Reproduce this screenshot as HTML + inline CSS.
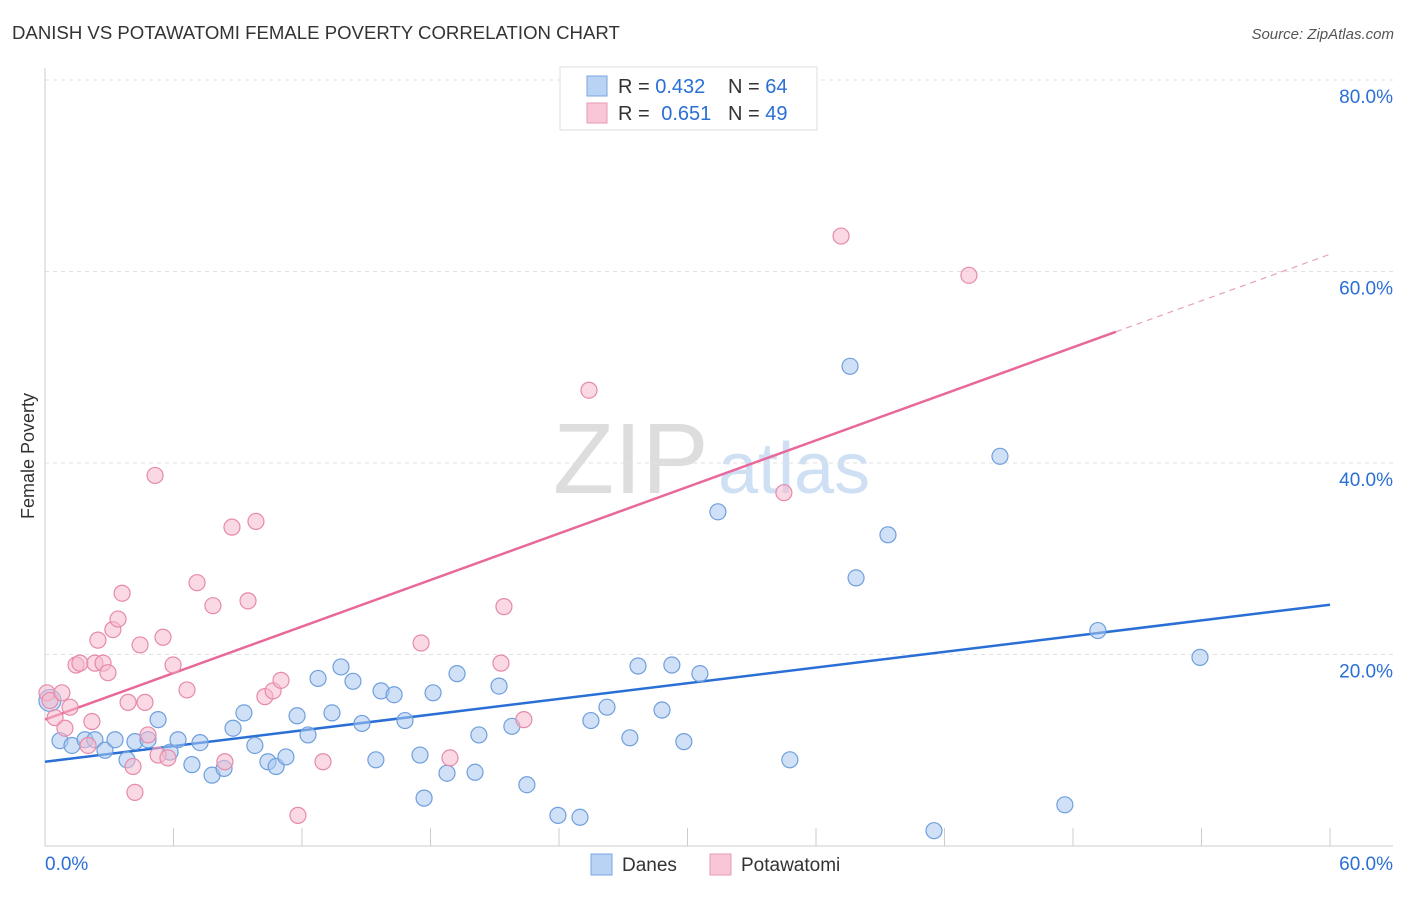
<!DOCTYPE html>
<html><head><meta charset="utf-8">
<style>
body{margin:0;background:#fff;font-family:"Liberation Sans",sans-serif;}
svg text{font-family:"Liberation Sans",sans-serif;}
</style></head>
<body>
<svg id="chart" width="1406" height="892" xmlns="http://www.w3.org/2000/svg">
<text x="12" y="39" font-size="18.6" fill="#333">DANISH VS POTAWATOMI FEMALE POVERTY CORRELATION CHART</text>
<text x="1394" y="39" font-size="15" fill="#555" font-style="italic" text-anchor="end">Source: ZipAtlas.com</text>
<text x="34" y="456" font-size="18" fill="#333" text-anchor="middle" transform="rotate(-90 34 456)">Female Poverty</text>
<g>
<text x="553" y="493" font-size="100" fill="#ddd" font-family="Liberation Serif">ZIP</text>
<text x="718" y="493" font-size="72" fill="#cfe0f4">atlas</text>
</g>
<g id="grid"></g><g id="axes"></g><g id="trend"></g><g id="points"></g>
<g>
<rect x="560" y="67" width="257" height="63" fill="#fff" stroke="#ddd"/>
<rect x="587" y="76" width="20" height="20" fill="#b9d3f5" stroke="#7aa6e0"/>
<rect x="587" y="103" width="20" height="20" fill="#f8c6d6" stroke="#e79ab4"/>
<text x="618" y="93" font-size="20" fill="#333">R = <tspan fill="#2a6fd6">0.432</tspan></text>
<text x="728" y="93" font-size="20" fill="#333">N = <tspan fill="#2a6fd6">64</tspan></text>
<text x="618" y="120" font-size="20" fill="#333">R = <tspan fill="#2a6fd6" dx="6">0.651</tspan></text>
<text x="728" y="120" font-size="20" fill="#333">N = <tspan fill="#2a6fd6">49</tspan></text>
</g>
<g>
<rect x="591" y="854" width="21" height="21" fill="#b9d3f5" stroke="#7aa6e0"/>
<text x="622" y="871" font-size="19" fill="#333">Danes</text>
<rect x="710" y="854" width="21" height="21" fill="#f8c6d6" stroke="#e79ab4"/>
<text x="741" y="871" font-size="19" fill="#333">Potawatomi</text>
</g>
</svg>
<script>
const yTicks=[20,40,60,80];
const yTickLabels=["20.0%","40.0%","60.0%","80.0%"];
const xTickLabels=["0.0%","60.0%"];
const danesX=[0.23,0.70,1.26,1.87,2.33,2.80,3.27,3.83,4.20,4.81,5.28,5.84,6.21,6.86,7.24,7.80,8.36,8.78,9.29,9.80,10.41,10.79,11.25,11.77,12.28,12.75,13.40,13.82,14.38,14.80,15.45,15.69,16.30,16.81,17.51,17.70,18.12,18.77,19.24,20.08,20.26,21.20,21.80,22.50,23.95,24.98,25.49,26.24,27.31,27.69,28.81,29.27,29.83,30.58,31.42,34.78,37.59,37.87,39.36,41.51,44.59,47.62,49.16,53.93];
const danesY=[15.2,11.0,10.5,11.1,11.1,10.0,11.1,9.0,10.9,11.1,13.2,9.8,11.1,8.5,10.8,7.4,8.1,12.3,13.9,10.5,8.8,8.3,9.3,13.6,11.6,17.5,13.9,18.7,17.2,12.8,9.0,16.2,15.8,13.1,9.5,5.0,16.0,7.6,18.0,7.7,11.6,16.7,12.5,6.4,3.2,3.0,13.1,14.5,11.3,18.8,14.2,18.9,10.9,18.0,34.9,9.0,50.1,28.0,32.5,1.6,40.7,4.3,22.5,19.7];
const potX=[0.09,0.23,0.47,0.79,0.93,1.17,1.45,1.63,2.01,2.19,2.33,2.47,2.71,2.94,3.17,3.41,3.60,3.88,4.11,4.20,4.44,4.67,4.81,5.14,5.28,5.51,5.74,5.98,6.63,7.10,7.84,8.40,8.73,9.48,9.85,10.27,10.65,11.02,11.81,12.98,17.56,18.91,21.29,21.43,22.36,25.40,34.50,37.17,43.14];
const potY=[16.0,15.2,13.4,16.0,12.3,14.5,18.9,19.1,10.5,13.0,19.1,21.5,19.1,18.1,22.6,23.7,26.4,15.0,8.3,5.6,21.0,15.0,11.6,38.7,9.5,21.8,9.2,18.9,16.3,27.5,25.1,8.8,33.3,25.6,33.9,15.6,16.2,17.3,3.2,8.8,21.2,9.2,19.1,25.0,13.2,47.6,36.9,63.7,59.6];
const danesTrend=[8.8,25.2];
const potTrend=[13.2,61.8];
const potSolidEnd=50;

const X0=45,X1=1330,Y0=846,PER=191.5/20;
const sx=v=>X0+(v/60)*(X1-X0);
const sy=v=>Y0-v*PER;
const NS="http://www.w3.org/2000/svg";
function mk(tag,attrs,parent){const e=document.createElementNS(NS,tag);for(const k in attrs)e.setAttribute(k,attrs[k]);document.getElementById(parent).appendChild(e);return e;}

yTicks.forEach((t,i)=>{
  const g=mk('line',{x1:X0,x2:1393,y1:sy(t),y2:sy(t),stroke:'#e2e2e2','stroke-dasharray':'4,4'},'grid');
  
  
  const l=mk('text',{x:1393,y:sy(t)+23,'font-size':19,fill:'#2a6fd6','text-anchor':'end'},'grid');
  l.textContent=yTickLabels[i];
  
  
});
const ya=mk('line',{x1:X0,x2:X0,y1:68,y2:Y0,stroke:'#ccc'},'axes');


const xa=mk('line',{x1:X0,x2:1393,y1:Y0,y2:Y0,stroke:'#ccc'},'axes');


for(let v=6;v<=60;v+=6){
  const t=mk('line',{x1:sx(v),x2:sx(v),y1:828,y2:Y0,stroke:'#ccc'},'axes');
  
  
}
[[0,'start',X0],[60,'end',1393]].forEach((d,i)=>{
  const l=mk('text',{x:d[2],y:870,'font-size':19,fill:'#2a6fd6','text-anchor':d[1]},'axes');
  l.textContent=xTickLabels[i];
  
  
});

function pts(xs,ys,fill,stroke,name,big){
  xs.forEach((x,i)=>{
    const c=mk('circle',{cx:sx(x),cy:sy(ys[i]),r:(big&&i===0)?11:8,fill:fill,'fill-opacity':0.55,stroke:stroke,'stroke-width':1.2},'points');
    
    
  });
}
pts(danesX,danesY,'#a9c9f1','#6f9fdc','danes-point',true);
pts(potX,potY,'#f6b9cd','#e68aa9','potawatomi-point',false);

const bl=mk('line',{x1:sx(0),y1:sy(danesTrend[0]),x2:sx(60),y2:sy(danesTrend[1]),stroke:'#2a6fd6','stroke-width':2.5},'trend');


const pAt=x=>potTrend[0]+(potTrend[1]-potTrend[0])*x/60;
const pl=mk('line',{x1:sx(0),y1:sy(pAt(0)),x2:sx(potSolidEnd),y2:sy(pAt(potSolidEnd)),stroke:'#e8689a','stroke-width':2.5},'trend');


const pd=mk('line',{x1:sx(potSolidEnd),y1:sy(pAt(potSolidEnd)),x2:sx(60),y2:sy(pAt(60)),stroke:'#e8a0bb','stroke-width':1.2,'stroke-dasharray':'6,5'},'trend');


</script>
</body></html>
